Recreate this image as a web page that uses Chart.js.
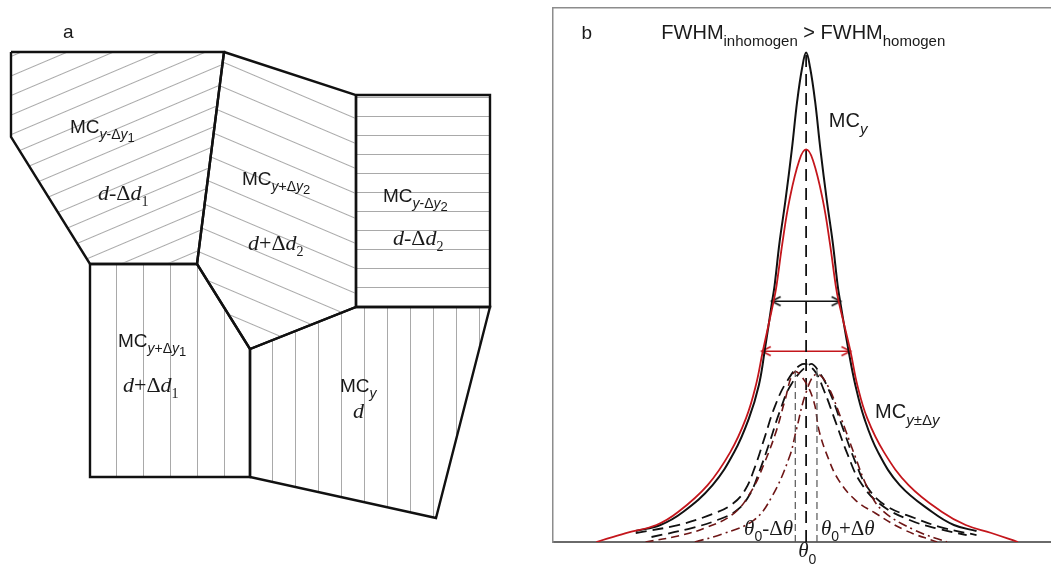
<!DOCTYPE html>
<html>
<head>
<meta charset="utf-8">
<script src="https://cdn.jsdelivr.net/npm/chart.js@4.4.1/dist/chart.umd.min.js"></script>
<style>
html, body { margin: 0; padding: 0; background: #fff; }
#wrap { position: relative; width: 1058px; height: 570px; overflow: hidden; }
#wrap canvas { position: absolute; top: 0; }
</style>
</head>
<body>
<div id="wrap">
  <canvas id="cellChart" width="545" height="570" style="left:0"></canvas>
  <canvas id="peakChart" width="513" height="570" style="left:545px"></canvas>
</div>
<script>
// panel a: grain cells, vertex lists (x to the right, y downward)
const cellYm1 = [[11,52],[224,52],[197,264],[90,264],[11,137]];
const cellYp2 = [[224,52],[356,95],[356,307],[250,349],[197,264]];
const cellYm2 = [[356,95],[490,95],[490,307],[356,307]];
const cellYp1 = [[90,264],[197,264],[250,349],[250,477],[90,477]];
const cellY   = [[250,349],[356,307],[490,307],[436,518],[250,477]];

// panel b: x = offset from theta0, y = intensity above baseline
const peakMCy = [[-173,11],[-148,17],[-125,30],[-95,57],[-73,90],[-58,124],[-48,157],[-42,192],[-34.5,241],[-32,257],[-27,300],[-21,342],[-14.5,393],[-9,442],[-4,475],[0,490],[4,475],[9,442],[14.5,393],[21,342],[27,300],[32,257],[34.5,241],[43,192],[50,157],[59,124],[73,90],[95,57],[128,30],[150,17],[173,11]];
const peakMCypm = [[-213,0],[-183,9],[-152,17],[-130,30],[-100,57],[-77,90],[-61,124],[-51,157],[-44,191],[-33,241],[-30,257],[-24,300],[-17,342],[-7,382],[0,393],[7,382],[17,342],[24,300],[30,257],[33,241],[45,191],[52,157],[62,124],[79,90],[104,57],[138,30],[162,17],[188,9],[215,0]];
const partBlack1 = [[-173,9],[-130,17],[-95,28],[-75,38],[-62,52],[-52,75],[-42,105],[-32,135],[-20,160],[-4,178],[8,172],[18,152],[30,120],[42,88],[55,60],[75,38],[105,22],[135,13],[163,7]];
const partBlack2 = [[-157,5],[-120,13],[-90,22],[-70,32],[-57,48],[-47,72],[-37,100],[-27,130],[-15,158],[4,178],[12,172],[24,150],[38,112],[50,80],[62,55],[80,37],[110,24],[140,14],[173,7]];
const partRedDash = [[-163,0],[-130,6],[-100,15],[-73,29],[-55,52],[-42,80],[-30,112],[-22,140],[-12,170],[-2,162],[8,140],[13,112],[22,85],[33,62],[50,42],[70,29],[100,12],[133,0]];
const partRedDashDot = [[-113,0],[-85,8],[-53,22],[-35,45],[-17,85],[-10,112],[0,150],[10,168],[20,160],[35,125],[50,85],[62,55],[77,32],[110,12],[143,0]];
const thetaLine = [[0,0],[0,490]];
const thetaMinusLine = [[-11,0],[-11,172]];
const thetaPlusLine = [[11,0],[11,172]];
const fwhmHomogen = [[-35,241],[35,241]];
const fwhmInhomogen = [[-45,191],[45,191]];

const SANS = '"Liberation Sans", Arial, sans-serif';
const SERIF = '"Liberation Serif", "Times New Roman", serif';
const RED = '#c4161c';
const DARKRED = '#6e1616';

const xy = arr => arr.map(p => ({x: p[0], y: p[1]}));
const closed = arr => xy(arr.concat([arr[0]]));

function drawRuns(ctx, x, y, parts) {
    let cx = x;
    ctx.fillStyle = '#1a1a1a';
    ctx.textBaseline = 'alphabetic';
    ctx.textAlign = 'left';
    for (const [t, font, dy] of parts) {
        ctx.font = font;
        ctx.fillText(t, cx, y + (dy || 0));
        cx += ctx.measureText(t).width;
    }
}

function textPlugin(labels) {
    return {
        id: 'texts',
        afterDraw(chart) {
            const ctx = chart.ctx;
            ctx.save();
            for (const l of labels) {
                drawRuns(ctx, chart.scales.x.getPixelForValue(l.at[0]), chart.scales.y.getPixelForValue(l.at[1]), l.parts);
            }
            ctx.restore();
        }
    };
}

// ---------- panel a ----------
const mc = '19px ' + SANS, isub = 'italic 14px ' + SANS, sub = '14px ' + SANS, sub2 = '13px ' + SANS;
const ds = 'italic 22px ' + SERIF, dsu = '22px ' + SERIF, dsub = '14px ' + SERIF;
const cellLabels = [
    {at: [63, 38], parts: [['a', '19px ' + SANS]]},
    {at: [70, 133], parts: [['MC', mc], ['y', isub, 6], ['-Δ', sub, 6], ['y', isub, 6], ['1', sub2, 9]]},
    {at: [98, 200], parts: [['d', ds], ['-Δ', dsu], ['d', ds], ['1', dsub, 6]]},
    {at: [242, 185], parts: [['MC', mc], ['y', isub, 6], ['+Δ', sub, 6], ['y', isub, 6], ['2', sub2, 9]]},
    {at: [248, 250], parts: [['d', ds], ['+Δ', dsu], ['d', ds], ['2', dsub, 6]]},
    {at: [383, 202], parts: [['MC', mc], ['y', isub, 6], ['-Δ', sub, 6], ['y', isub, 6], ['2', sub2, 9]]},
    {at: [393, 245], parts: [['d', ds], ['-Δ', dsu], ['d', ds], ['2', dsub, 6]]},
    {at: [118, 347], parts: [['MC', mc], ['y', isub, 6], ['+Δ', sub, 6], ['y', isub, 6], ['1', sub2, 9]]},
    {at: [123, 392], parts: [['d', ds], ['+Δ', dsu], ['d', ds], ['1', dsub, 6]]},
    {at: [340, 392], parts: [['MC', mc], ['y', isub, 6]]},
    {at: [353, 418], parts: [['d', ds]]}
];

const hatches = [
    {angle: -23, gap: 18, at: [11, 95]},
    {angle: 23, gap: 23, at: [356, 193]},
    {angle: 0, gap: 19, at: [356, 116]},
    {angle: 90, gap: 27, at: [117, 264]},
    {angle: 90, gap: 23, at: [273, 307]}
];
const patternCache = {};
function hatchFill(context) {
    const chart = context.chart;
    const i = context.datasetIndex;
    if (!chart.chartArea) return 'rgba(0,0,0,0)';
    if (patternCache[i]) return patternCache[i];
    const h = hatches[i];
    const tile = document.createElement('canvas');
    tile.width = 8;
    tile.height = h.gap;
    const t = tile.getContext('2d');
    t.strokeStyle = '#a9a9a9';
    t.lineWidth = 1;
    t.beginPath(); t.moveTo(0, 0.5); t.lineTo(8, 0.5); t.stroke();
    const p = chart.ctx.createPattern(tile, 'repeat');
    const ox = chart.scales.x.getPixelForValue(h.at[0]);
    const oy = chart.scales.y.getPixelForValue(h.at[1]);
    p.setTransform(new DOMMatrix().translate(ox, oy).rotate(h.angle));
    patternCache[i] = p;
    return p;
}

const cells = [cellYm1, cellYp2, cellYm2, cellYp1, cellY];
new Chart(document.getElementById('cellChart'), {
    type: 'scatter',
    data: {
        datasets: cells.map(c => ({
            data: closed(c),
            showLine: true,
            borderColor: '#111',
            borderWidth: 2.4,
            backgroundColor: hatchFill,
            fill: 'shape',
            pointRadius: 0,
            tension: 0,
            clip: false
        }))
    },
    options: {
        responsive: false,
        animation: false,
        events: [],
        layout: {padding: 0},
        plugins: {legend: {display: false}, tooltip: {enabled: false}},
        scales: {
            x: {type: 'linear', display: false, min: 0, max: 545},
            y: {type: 'linear', display: false, min: 0, max: 570, reverse: true}
        }
    },
    plugins: [textPlugin(cellLabels)]
});

// ---------- panel b ----------
function arrowHead(color) {
    const c = document.createElement('canvas');
    c.width = 24; c.height = 12;
    const g = c.getContext('2d');
    g.strokeStyle = color;
    g.lineWidth = 1.6;
    g.beginPath(); g.moveTo(3, 1.5); g.lineTo(12, 6); g.lineTo(3, 10.5); g.stroke();
    return c;
}

const big = '20px ' + SANS, bsub = '15px ' + SANS, bisub = 'italic 15px ' + SANS;
const th = 'italic 21px ' + SERIF, thu = '21px ' + SERIF;
const peakLabels = [
    {at: [-228, 504], parts: [['b', '19px ' + SANS]]},
    {at: [-147, 504], parts: [['FWHM', big], ['inhomogen', bsub, 7], [' > ', big], ['FWHM', big], ['homogen', bsub, 7]]},
    {at: [23, 415], parts: [['MC', big], ['y', bisub, 7]]},
    {at: [70, 124], parts: [['MC', big], ['y', bisub, 7], ['±Δ', bsub, 7], ['y', bisub, 7]]},
    {at: [-63, 7], parts: [['θ', th], ['0', '14px ' + SANS, 6], ['-Δ', thu], ['θ', th]]},
    {at: [15, 7], parts: [['θ', th], ['0', '14px ' + SANS, 6], ['+Δ', thu], ['θ', th]]},
    {at: [-8, -15], parts: [['θ', th], ['0', '14px ' + SANS, 7]]}
];

function curve(arr, color, width, dash) {
    return {
        data: xy(arr), showLine: true, borderColor: color, borderWidth: width,
        borderDash: dash || [], pointRadius: 0, fill: false,
        tension: 0.4
    };
}
function straight(arr, color, width, dash) {
    return {
        data: xy(arr), showLine: true, borderColor: color, borderWidth: width,
        borderDash: dash || [], pointRadius: 0, fill: false, tension: 0
    };
}
function arrow(arr, color) {
    return {
        data: xy(arr), showLine: true, borderColor: color, borderWidth: 1.6,
        pointStyle: arrowHead(color), pointRadius: 6, pointRotation: [180, 0],
        fill: false, tension: 0
    };
}

new Chart(document.getElementById('peakChart'), {
    type: 'scatter',
    data: {
        datasets: [
            straight(thetaMinusLine, '#555', 1.2, [7, 4]),
            straight(thetaPlusLine, '#555', 1.2, [7, 4]),
            curve(partRedDashDot, DARKRED, 1.6, [9, 4, 2, 4]),
            curve(partRedDash, DARKRED, 1.6, [8, 5]),
            curve(partBlack1, '#111', 1.8, [11, 6]),
            curve(partBlack2, '#111', 1.8, [11, 6]),
            curve(peakMCypm, RED, 1.8),
            curve(peakMCy, '#111', 2),
            straight(thetaLine, '#111', 1.8, [12, 7]),
            arrow(fwhmHomogen, '#111'),
            arrow(fwhmInhomogen, RED)
        ]
    },
    options: {
        responsive: false,
        animation: false,
        events: [],
        layout: {padding: {left: 8, top: 7, right: 0, bottom: 28}},
        plugins: {legend: {display: false}, tooltip: {enabled: false}},
        scales: {
            x: {
                type: 'linear', position: 'bottom', min: -257, max: 248,
                grid: {display: false, drawTicks: false}, ticks: {display: false},
                border: {display: true, color: '#6a6a6a', width: 2}
            },
            xTop: {
                type: 'linear', position: 'top', min: -257, max: 248,
                grid: {display: false, drawTicks: false}, ticks: {display: false},
                border: {display: true, color: '#8c8c8c', width: 1.5}
            },
            y: {
                type: 'linear', position: 'left', min: 0, max: 535,
                grid: {display: false, drawTicks: false}, ticks: {display: false},
                border: {display: true, color: '#8c8c8c', width: 1.5}
            }
        }
    },
    plugins: [textPlugin(peakLabels)]
});
</script>
</body>
</html>
